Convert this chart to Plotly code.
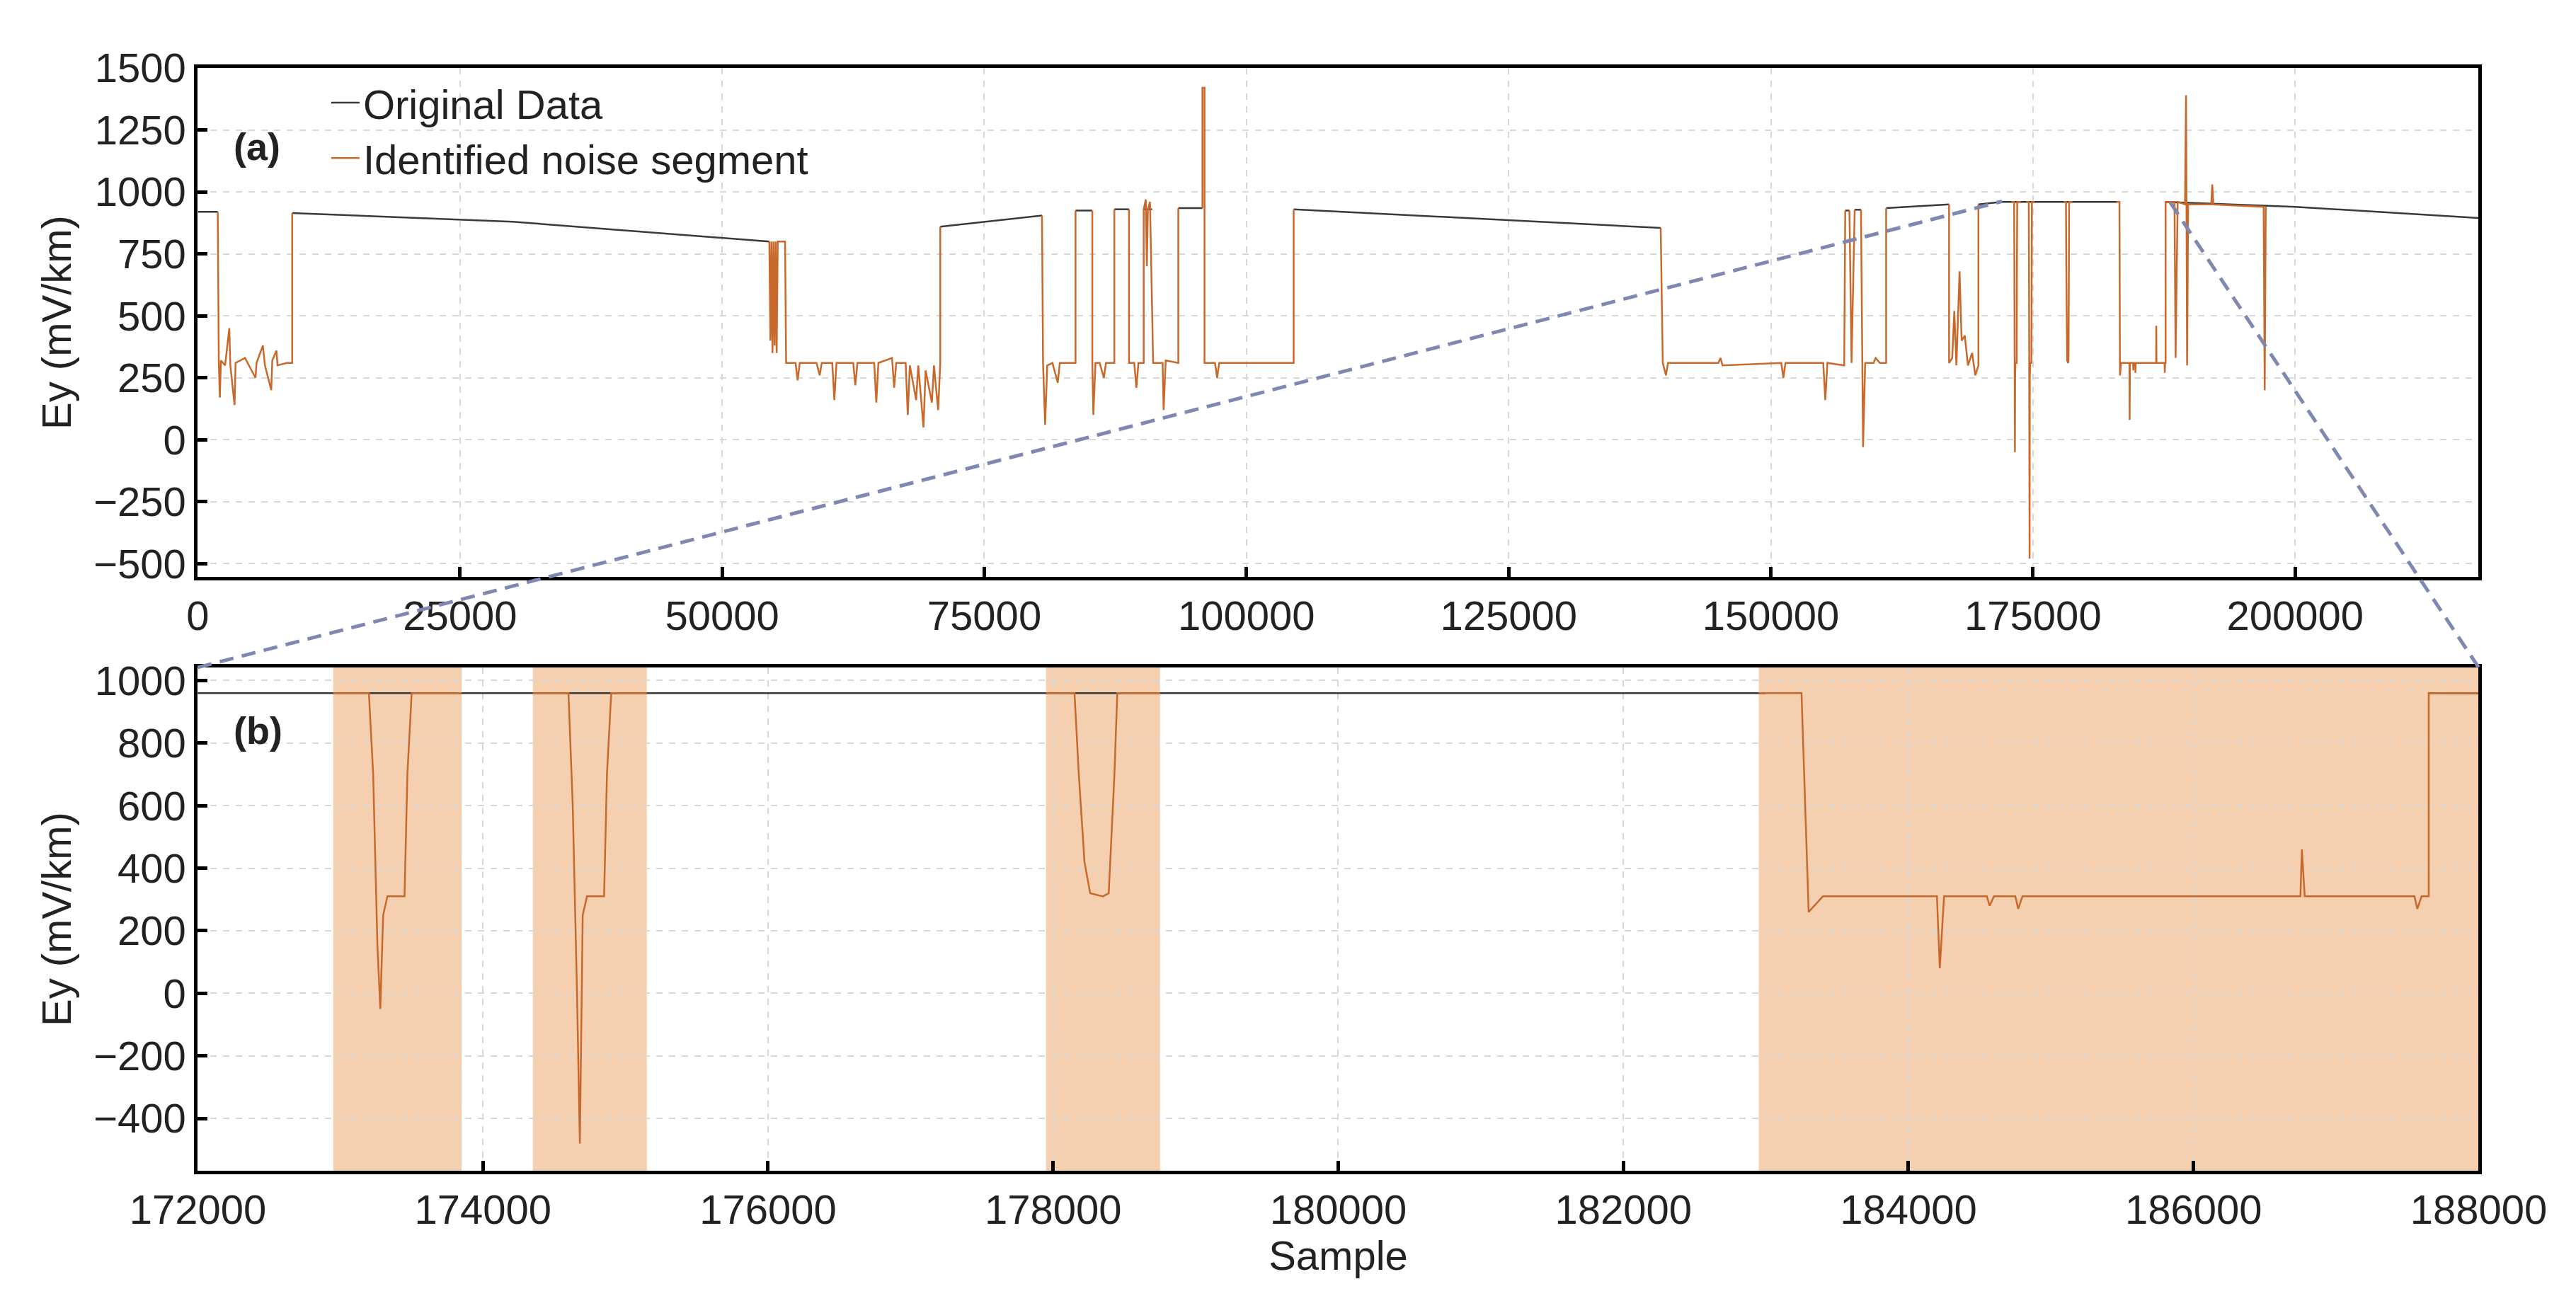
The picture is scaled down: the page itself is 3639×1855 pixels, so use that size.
"""Ey record with identified noise segments, overview (a) and zoom (b)"""
import plotly.graph_objects as go

# original data shown where no noise was identified
orig_x = [0, 1900, None, 9000, 30000, 54500, None, 70800, 80500, None, 83700, 85300, None,
          87400, 88800, None, 90200, 91000, None, 93500, 95800, None, 104500, 139500, None,
          157100, 157500, None, 158000, 158600, None, 161000, 167000, None, 169800, 172000, 183000, None,
          187650, 200000, 217500]
orig_y = [920, 920, None, 915, 880, 800, None, 860, 905, None, 925, 925, None,
          930, 930, None, 930, 930, None, 935, 935, None, 930, 855, None,
          925, 925, None, 928, 928, None, 935, 950, None, 950, 960, 960, None,
          960, 940, 895]

# identified noise segments
noise_x = [1900, 2000, 2100, 2200, 2600, 3000, 3100, 3500, 3600, 4500, 5000, 5500, 5600, 6200, 6400,
           7000, 7100, 7500, 7600, 8500, 9000, 9000, None,
           54500, 54600, 54700, 54800, 54900, 55000, 55100, 55200, 55300, 56000, 56100, 57000, 57200,
           57400, 59000, 59300, 59500, 60500, 60700, 60900, 62500, 62700, 62900, 64500, 64700, 64900,
           66200, 66400, 66600, 67500, 67700, 67900, 68500, 68700, 69200, 69400, 70000, 70200, 70600,
           70800, 70800, None,
           80500, 80600, 80800, 81000, 81500, 82000, 82200, 83700, 83700, None,
           85300, 85300, 85400, 85600, 86000, 86400, 86600, 87400, 87400, None,
           88800, 88800, 89300, 89500, 89700, 90200, 90200, 90400, 90500, 90600, 90800, 91000, 91100,
           92000, 92100, 92300, 93500, 93500, None,
           95800, 95800, 96000, 96000, 97000, 97200, 97400, 104500, 104500, None,
           139500, 139700, 140000, 140200, 145000, 145200, 145400, 151000, 151200, 151400, 155000,
           155200, 155400, 157000, 157100, None, 157500, 157700, 158000, None, 158600, 158800, 159000,
           159800, 160000, 160400, 161000, 161000, None,
           167000, 167000, 167300, 167500, 167700, 168000, 168200, 168500, 168800, 169200, 169500,
           169800, 169800, None,
           172950, 173200, 173230, 173260, 173280, 173300, 173330, 173450, 173470, 173500, 173850, None,
           174350, 174600, 174630, 174660, 174680, 174700, 174730, 174850, 174870, 174900, 175150, None,
           177950, 178150, 178180, 178220, 178260, 178350, 178390, 178430, 178450, 178750, None,
           182950, 183250, 183300, 183400, 184200, 184220, 184250, 184550, 184570, 184600, 184750,
           184770, 184800, 186750, 186760, 186780, 187550, 187570, 187600, 187650, 187650, 188000,
           188500, 188600, 188800, 189500, 189600, 189700, 189800, 192000, 192100, 192200, 197000,
           197100, 197200]
noise_y = [920, 310, 170, 320, 300, 450, 300, 140, 310, 330, 290, 250, 310, 380, 300,
           200, 320, 360, 300, 310, 310, 915, None,
           800, 400, 800, 350, 800, 380, 800, 350, 800, 800, 310, 310, 240,
           310, 310, 260, 310, 310, 160, 310, 310, 220, 310, 310, 150, 310,
           330, 210, 310, 310, 100, 300, 160, 300, 50, 280, 150, 300, 120,
           310, 860, None,
           905, 310, 60, 300, 310, 230, 310, 310, 925, None,
           925, 310, 100, 310, 310, 250, 310, 310, 930, None,
           930, 310, 310, 210, 310, 310, 930, 970, 700, 930, 960, 500, 310,
           310, 120, 320, 310, 935, None,
           935, 1420, 1420, 310, 310, 250, 310, 310, 930, None,
           855, 310, 260, 310, 310, 330, 300, 310, 250, 310, 310,
           160, 310, 300, 925, None, 925, 310, 928, None, 928, -30, 310,
           310, 330, 310, 310, 935, None,
           950, 310, 330, 520, 300, 680, 400, 420, 300, 350, 260,
           300, 950, None,
           960, 960, 700, 150, -50, 250, 310, 310, 700, 960, 960, None,
           960, 960, 600, 0, -480, 250, 310, 310, 700, 960, 960, None,
           960, 960, 700, 420, 320, 310, 320, 700, 960, 960, None,
           960, 960, 260, 310, 310, 80, 310, 310, 280, 310, 310,
           270, 310, 310, 460, 310, 310, 270, 310, 310, 960, 960,
           960, 330, 960, 950, 1390, 300, 950, 950, 1030, 950, 940,
           200, 940]

# shaded noise windows in the zoom panel
shade_start = [172950, 174350, 177950, 182950]
shade_end = [173850, 175150, 178750, 188000]

black = '#3a3a3a'
orange = '#c8692b'

fig = go.Figure()
for xa, ya, show in [('x', 'y', True), ('x2', 'y2', False)]:
    fig.add_trace(go.Scatter(x=orig_x, y=orig_y, mode='lines', name='Original Data',
                             line=dict(color=black, width=2.5), xaxis=xa, yaxis=ya,
                             showlegend=show, connectgaps=False))
    fig.add_trace(go.Scatter(x=noise_x, y=noise_y, mode='lines', name='Identified noise segment',
                             line=dict(color=orange, width=2.5), xaxis=xa, yaxis=ya,
                             showlegend=show, connectgaps=False))

for s, e in zip(shade_start, shade_end):
    fig.add_shape(type='rect', xref='x2', yref='y2 domain', x0=s, x1=e, y0=0, y1=1,
                  fillcolor='#f5d0b0', line_width=0, layer='below')

# zoom connector lines
dash = dict(color='#7f88b0', width=5, dash='20px,12px')
fig.add_shape(type='line', xref='paper', yref='paper', x0=0.0746, y0=0.496, x1=0.775, y1=0.851, line=dash)
fig.add_shape(type='line', xref='paper', yref='paper', x0=0.96, y0=0.496, x1=0.840, y1=0.851, line=dash)

ax = dict(showline=True, linecolor='black', linewidth=5, mirror=True, ticks='inside',
          ticklen=14, tickwidth=5, tickcolor='black', showgrid=True, gridcolor='#d8d8d8',
          griddash='dash', gridwidth=2, zeroline=False, automargin=False, tickformat='d',
          tickfont=dict(size=58, color='#222'))

fig.update_layout(
    width=3639, height=1855, paper_bgcolor='white', plot_bgcolor='white',
    font=dict(family='Liberation Sans, Arial', color='#222'),
    margin=dict(l=0, r=0, t=0, b=0),
    xaxis=dict(ax, domain=[0.0746, 0.96], range=[0, 217500], anchor='y',
               tickvals=[0, 25000, 50000, 75000, 100000, 125000, 150000, 175000, 200000]),
    yaxis=dict(ax, domain=[0.565, 0.9525], range=[-553, 1500], anchor='x',
               tickvals=[-500, -250, 0, 250, 500, 750, 1000, 1250, 1500],
               title=dict(text='Ey (mV/km)', font=dict(size=58), standoff=14)),
    xaxis2=dict(ax, domain=[0.0746, 0.96], range=[172000, 188000], anchor='y2',
                tickvals=list(range(172000, 188001, 2000)),
                title=dict(text='Sample', font=dict(size=58), standoff=8)),
    yaxis2=dict(ax, domain=[0.1125, 0.496], range=[-568, 1042], anchor='x2',
                tickvals=[-400, -200, 0, 200, 400, 600, 800, 1000],
                title=dict(text='Ey (mV/km)', font=dict(size=58), standoff=14)),
    legend=dict(x=0.125, y=0.95, xanchor='left', yanchor='top', bgcolor='rgba(0,0,0,0)',
                font=dict(size=58), itemwidth=40),
    annotations=[
        dict(text='<b>(a)</b>', xref='paper', yref='paper', x=0.088, y=0.91, showarrow=False,
             font=dict(size=54), xanchor='left'),
        dict(text='<b>(b)</b>', xref='paper', yref='paper', x=0.088, y=0.448, showarrow=False,
             font=dict(size=54), xanchor='left'),
    ],
)
fig.write_html("out.html")
